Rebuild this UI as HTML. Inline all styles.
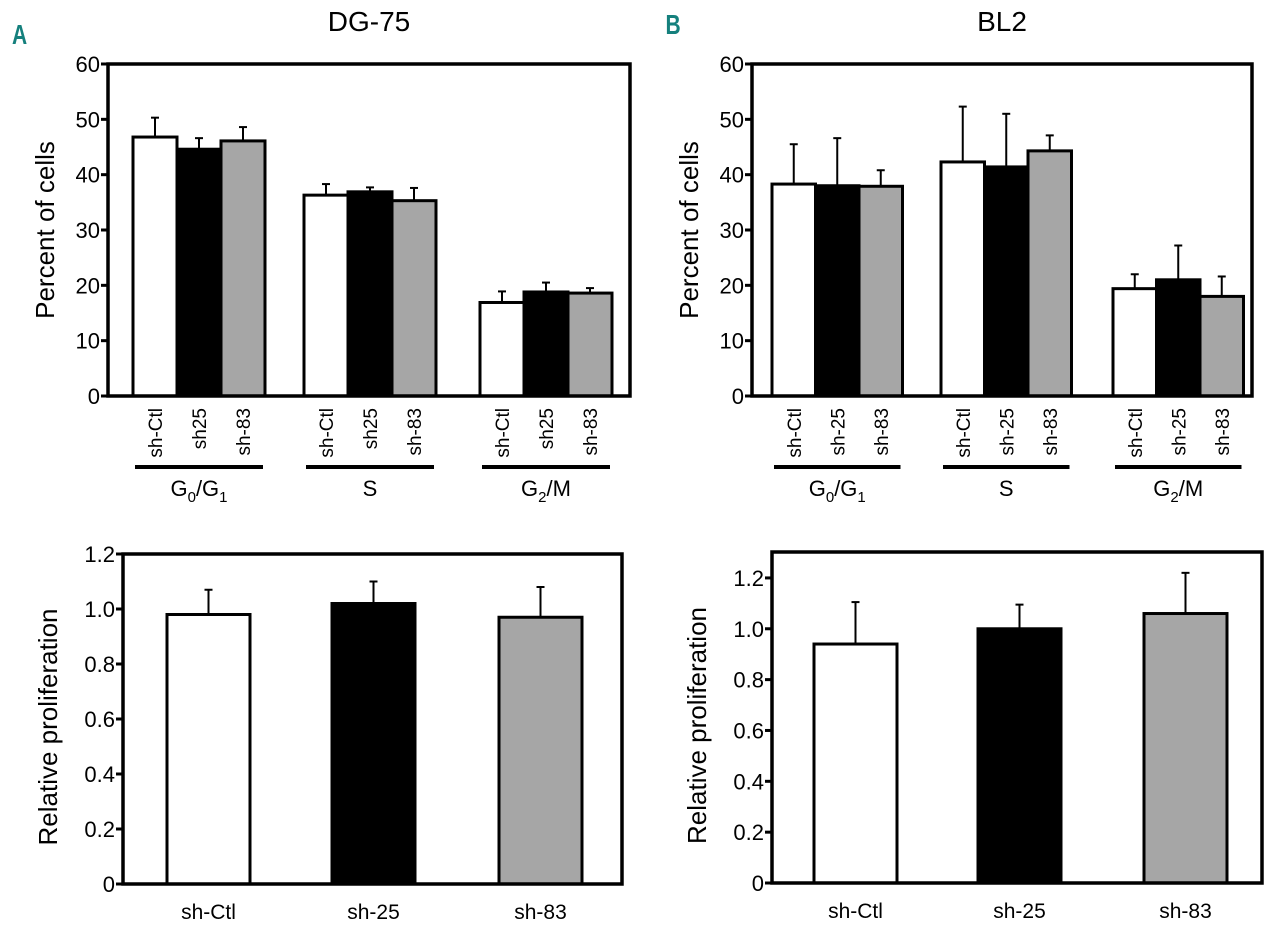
<!DOCTYPE html>
<html><head><meta charset="utf-8"><style>
body{margin:0;background:#fff;width:1280px;height:934px;overflow:hidden}
svg{display:block;font-family:"Liberation Sans",Arial,sans-serif}
</style></head><body>
<svg id="fig" width="1280" height="934" viewBox="0 0 1280 934" xmlns="http://www.w3.org/2000/svg">
<text x="12" y="44" font-size="28" font-weight="bold" fill="#15807d" transform="translate(3,0) scale(0.75,1)">A</text>
<text x="666" y="34" font-size="28" font-weight="bold" fill="#15807d" transform="translate(166,0) scale(0.75,1)">B</text>
</svg>
<script>
// ---- data ----
const groups = ["G0/G1", "S", "G2/M"];
const shNamesA = ["sh-Ctl", "sh25", "sh-83"];
const shNamesB = ["sh-Ctl", "sh-25", "sh-83"];
const dg75Values = [[46.8, 44.6, 46.1], [36.3, 36.9, 35.3], [16.9, 18.8, 18.6]];
const dg75Errors = [[3.5, 2.0, 2.5], [2.0, 0.8, 2.3], [2.0, 1.7, 0.9]];
const bl2Values = [[38.3, 38.0, 37.9], [42.3, 41.4, 44.3], [19.4, 21.0, 18.0]];
const bl2Errors = [[7.2, 8.6, 2.9], [10.0, 9.6, 2.8], [2.6, 6.2, 3.6]];
const cellTicks = [0, 10, 20, 30, 40, 50, 60];
const prolifNames = ["sh-Ctl", "sh-25", "sh-83"];
const prolifA = [0.98, 1.02, 0.97];
const prolifAErr = [0.09, 0.08, 0.11];
const prolifB = [0.94, 1.00, 1.06];
const prolifBErr = [0.165, 0.095, 0.16];
const prolifTicksA = ["0", "0.2", "0.4", "0.6", "0.8", "1.0", "1.2"];
const prolifTicksB = ["0", "0.2", "0.4", "0.6", "0.8", "1.0", "1.2"];
const fills = ["#ffffff", "#000000", "#a6a6a6"];

const svg = document.getElementById('fig');
const NS = "http://www.w3.org/2000/svg";
function mk(tag, attrs, parent) {
  const e = document.createElementNS(NS, tag);
  for (const k in attrs) e.setAttribute(k, attrs[k]);
  (parent || svg).appendChild(e);
  return e;
}
function txt(x, y, s, size, anchor, parent) {
  const t = mk('text', {x: x, y: y, 'font-size': size, 'text-anchor': anchor || 'middle', fill: '#000'}, parent);
  t.textContent = s;
  return t;
}

function drawCellChart(cfg) {
  const g = mk('g', {});
  
  
  const yS = v => cfg.y0 - (v / 60) * (cfg.y0 - cfg.y1);
  const t = txt((cfg.x0 + cfg.x1) / 2, 31, cfg.title, 28, 'middle', g);
  
  
  const ax = mk('g', {}, g);
  
  
  cellTicks.forEach(v => {
    const y = yS(v);
    mk('line', {x1: cfg.x0 - 7, x2: cfg.x0, y1: y, y2: y, stroke: '#000', 'stroke-width': 3}, ax);
    const l = txt(cfg.x0 - 8, y + 8, String(v), 22, 'end', ax);
    
    
  });
  const yt = txt(0, 0, 'Percent of cells', 26, 'middle', g);
  yt.setAttribute('transform', `translate(${cfg.x0 - 54},${(cfg.y0 + cfg.y1) / 2}) rotate(-90)`);
  
  
  groups.forEach((gn, gi) => {
    const left = cfg.groupLeft[gi];
    for (let i = 0; i < 3; i++) {
      const v = cfg.values[gi][i], e = cfg.errors[gi][i];
      const bx = left + i * cfg.bw, cx = bx + cfg.bw / 2;
      const eb = mk('line', {x1: cx, x2: cx, y1: yS(v), y2: yS(v + e), stroke: '#000', 'stroke-width': 2}, g);
      
      
      mk('line', {x1: cx - 4, x2: cx + 4, y1: yS(v + e), y2: yS(v + e), stroke: '#000', 'stroke-width': 2}, g);
      const r = mk('rect', {x: bx, y: yS(v), width: cfg.bw, height: yS(0) - yS(v), fill: fills[i], stroke: '#000', 'stroke-width': 3}, g);
      
      
      const lab = txt(0, 0, cfg.names[i], 19, 'end', g);
      lab.setAttribute('transform', `translate(${cx + 7},${cfg.y0 + 12}) rotate(-90)`);
      
      
    }
    mk('line', {x1: left + 2, x2: left + 3 * cfg.bw - 2, y1: 467, y2: 467, stroke: '#000', 'stroke-width': 4}, g);
    const gx = left + 1.5 * cfg.bw;
    const gl = mk('text', {x: gx, y: 496, 'font-size': 22, 'text-anchor': 'middle'}, g);
    
    
    if (gn === "G0/G1") gl.innerHTML = 'G<tspan font-size="15" dy="6">0</tspan><tspan dy="-6">/G</tspan><tspan font-size="15" dy="6">1</tspan>';
    else if (gn === "G2/M") gl.innerHTML = 'G<tspan font-size="15" dy="6">2</tspan><tspan dy="-6">/M</tspan>';
    else gl.textContent = gn;
  });
  const fr = mk('rect', {x: cfg.x0, y: cfg.y1, width: cfg.x1 - cfg.x0, height: cfg.y0 - cfg.y1, fill: 'none', stroke: '#000', 'stroke-width': 3.5}, g);
  
  
}

function drawProlif(cfg) {
  const g = mk('g', {});
  
  
  const yS = v => cfg.y0 - (v / cfg.vmax) * (cfg.y0 - cfg.y1);
  cfg.ticks.forEach(s => {
    const v = parseFloat(s), y = yS(v);
    mk('line', {x1: cfg.x0 - 7, x2: cfg.x0, y1: y, y2: y, stroke: '#000', 'stroke-width': 3}, g);
    const l = txt(cfg.x0 - 8, y + 8, s, 22, 'end', g);
    
    
  });
  const yt = txt(0, 0, 'Relative proliferation', 26, 'middle', g);
  yt.setAttribute('transform', `translate(${cfg.x0 - 66},${(cfg.y0 + cfg.y1) / 2 + 8}) rotate(-90)`);
  
  
  prolifNames.forEach((n, i) => {
    const v = cfg.values[i], e = cfg.errors[i];
    const bx = cfg.barLeft[i], cx = bx + cfg.bw / 2;
    const eb = mk('line', {x1: cx, x2: cx, y1: yS(v), y2: yS(v + e), stroke: '#000', 'stroke-width': 2}, g);
    
    
    mk('line', {x1: cx - 4, x2: cx + 4, y1: yS(v + e), y2: yS(v + e), stroke: '#000', 'stroke-width': 2}, g);
    const r = mk('rect', {x: bx, y: yS(v), width: cfg.bw, height: yS(0) - yS(v), fill: fills[i], stroke: '#000', 'stroke-width': 3}, g);
    
    
    const l = txt(cx, cfg.y0 + 35, n, 21, 'middle', g);
    
    
  });
  const fr = mk('rect', {x: cfg.x0, y: cfg.y1, width: cfg.x1 - cfg.x0, height: cfg.y0 - cfg.y1, fill: 'none', stroke: '#000', 'stroke-width': 3.5}, g);
  
  
}

drawCellChart({name: 'dg75-cell-cycle-chart', title: 'DG-75', x0: 108, x1: 630, y0: 396, y1: 64,
  groupLeft: [133, 304, 480], bw: 44, values: dg75Values, errors: dg75Errors, names: shNamesA});
drawCellChart({name: 'bl2-cell-cycle-chart', title: 'BL2', x0: 752, x1: 1252, y0: 396, y1: 64,
  groupLeft: [772, 941, 1113], bw: 43.5, values: bl2Values, errors: bl2Errors, names: shNamesB});
drawProlif({name: 'dg75-proliferation-chart', x0: 123, x1: 622, y0: 884, y1: 554, vmax: 1.2,
  barLeft: [167, 332, 499], bw: 83, values: prolifA, errors: prolifAErr, ticks: prolifTicksA});
drawProlif({name: 'bl2-proliferation-chart', x0: 772, x1: 1262, y0: 883, y1: 552, vmax: 1.302,
  barLeft: [814, 978, 1144], bw: 83, values: prolifB, errors: prolifBErr, ticks: prolifTicksB});
</script>
</body></html>
